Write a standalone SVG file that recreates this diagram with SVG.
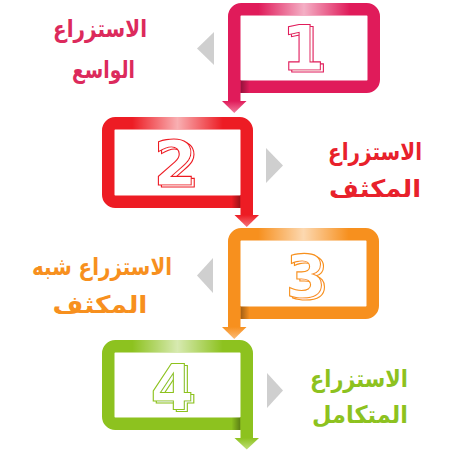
<svg xmlns="http://www.w3.org/2000/svg" width="450" height="450" viewBox="0 0 450 450">
<style>
.frame{fill:none;stroke-width:12.5}
.lbl{font-family:"DejaVu Sans","Noto Sans",sans-serif;font-weight:bold;font-size:24px;text-anchor:middle}
.num{font-family:"DejaVu Sans","Liberation Sans",sans-serif;font-weight:bold;font-size:62px;text-anchor:middle;fill:#fff;stroke-width:1.1}
.ptr{fill:#cfcfcf}
.hl{fill:url(#hl)}
</style>
<defs>
<linearGradient id="hl" x1="0" y1="0" x2="1" y2="0">
<stop offset="0.2" stop-color="#fff" stop-opacity="0"/>
<stop offset="0.5" stop-color="#fff" stop-opacity="0.65"/>
<stop offset="0.8" stop-color="#fff" stop-opacity="0"/>
</linearGradient>
<linearGradient id="shR" x1="0" y1="0" x2="1" y2="0">
<stop offset="0" stop-color="#000" stop-opacity="0.35"/>
<stop offset="1" stop-color="#000" stop-opacity="0"/>
</linearGradient>
<linearGradient id="shL" x1="1" y1="0" x2="0" y2="0">
<stop offset="0" stop-color="#000" stop-opacity="0.35"/>
<stop offset="1" stop-color="#000" stop-opacity="0"/>
</linearGradient>
<linearGradient id="g1" x1="0" y1="0" x2="0" y2="1"><stop offset="0" stop-color="#e01b5a"/><stop offset="1" stop-color="#f27a9c"/></linearGradient>
<linearGradient id="g2" x1="0" y1="0" x2="0" y2="1"><stop offset="0" stop-color="#ed1c24"/><stop offset="1" stop-color="#f5737a"/></linearGradient>
<linearGradient id="g3" x1="0" y1="0" x2="0" y2="1"><stop offset="0" stop-color="#f7901e"/><stop offset="1" stop-color="#fbbb78"/></linearGradient>
<linearGradient id="g4" x1="0" y1="0" x2="0" y2="1"><stop offset="0" stop-color="#8dc21f"/><stop offset="1" stop-color="#bfe07a"/></linearGradient>
<filter id="x3d" x="-20%" y="-20%" width="150%" height="150%">
<feOffset in="SourceGraphic" dx="3" dy="2" result="o"/>
<feMerge><feMergeNode in="o"/><feMergeNode in="SourceGraphic"/></feMerge>
</filter>
</defs>

<g id="step1">
<rect class="frame" x="234.25" y="9.25" width="139.5" height="77.5" rx="7" stroke="#e01b5a"/>
<rect class="hl" x="228" y="3" width="152" height="12.5"/>
<rect x="240.5" y="80.5" width="9" height="12.5" fill="url(#shR)"/>
<text class="num" x="303" y="70" stroke="#e01b5a" filter="url(#x3d)">1</text>
<polygon class="ptr" points="214,32 214,65 197,48.5"/>
<text class="lbl" fill="#dc2a5c" x="100" y="37" textLength="94" lengthAdjust="spacingAndGlyphs">الاستزراع</text>
<text class="lbl" fill="#dc2a5c" x="103.5" y="78" textLength="63" lengthAdjust="spacingAndGlyphs">الواسع</text>
</g>

<g id="step2">
<rect class="frame" x="108.25" y="123.25" width="138.5" height="78.5" rx="7" stroke="#ed1c24"/>
<rect class="hl" x="102" y="117" width="151" height="12.5"/>
<rect x="231.5" y="195.5" width="9" height="12.5" fill="url(#shL)"/>
<text class="num" x="175" y="185" stroke="#ed1c24" filter="url(#x3d)">2</text>
<polygon class="ptr" points="266,148 266,183 283,165.5"/>
<text class="lbl" fill="#e8212b" x="375" y="160" textLength="94" lengthAdjust="spacingAndGlyphs">الاستزراع</text>
<text class="lbl" fill="#e8212b" x="375" y="197" textLength="92" lengthAdjust="spacingAndGlyphs">المكثف</text>
</g>

<g id="step3">
<rect class="frame" x="234.25" y="234.25" width="138.5" height="78.5" rx="7" stroke="#f7901e"/>
<rect class="hl" x="228" y="228" width="151" height="12.5"/>
<rect x="240.5" y="306.5" width="9" height="12.5" fill="url(#shR)"/>
<text class="num" x="306" y="297" stroke="#f7901e" filter="url(#x3d)" style="font-size:58px">3</text>
<polygon class="ptr" points="213,258 213,293 197,275.5"/>
<text class="lbl" fill="#f7901e" x="102" y="275" textLength="140" lengthAdjust="spacingAndGlyphs">الاستزراع شبه</text>
<text class="lbl" fill="#f7901e" x="100" y="313" textLength="95" lengthAdjust="spacingAndGlyphs">المكثف</text>
</g>

<g id="step4">
<rect class="frame" x="108.25" y="346.25" width="138.5" height="77.5" rx="7" stroke="#8dc21f"/>
<rect class="hl" x="102" y="340" width="151" height="12.5"/>
<rect x="231.5" y="417.5" width="9" height="12.5" fill="url(#shL)"/>
<text class="num" x="172" y="409" stroke="#8dc21f" filter="url(#x3d)">4</text>
<polygon class="ptr" points="267,373 267,408 283,390.5"/>
<text class="lbl" fill="#8dc21f" x="359" y="387" textLength="98" lengthAdjust="spacingAndGlyphs">الاستزراع</text>
<text class="lbl" fill="#8dc21f" x="360" y="423" textLength="96" lengthAdjust="spacingAndGlyphs">المتكامل</text>
</g>

<g id="connectors">
<rect x="228" y="80" width="12.5" height="22" fill="#e01b5a"/>
<polygon points="222,101 246.5,101 234.25,113" fill="url(#g1)"/>
<rect x="240.5" y="195" width="12.5" height="21" fill="#ed1c24"/>
<polygon points="234.5,215 259,215 246.75,227" fill="url(#g2)"/>
<rect x="228" y="306" width="12.5" height="22" fill="#f7901e"/>
<polygon points="222,327 246.5,327 234.25,339" fill="url(#g3)"/>
<rect x="240.5" y="417" width="12.5" height="22" fill="#8dc21f"/>
<polygon points="234.5,438 259,438 246.75,449.5" fill="url(#g4)"/>
</g>
</svg>
